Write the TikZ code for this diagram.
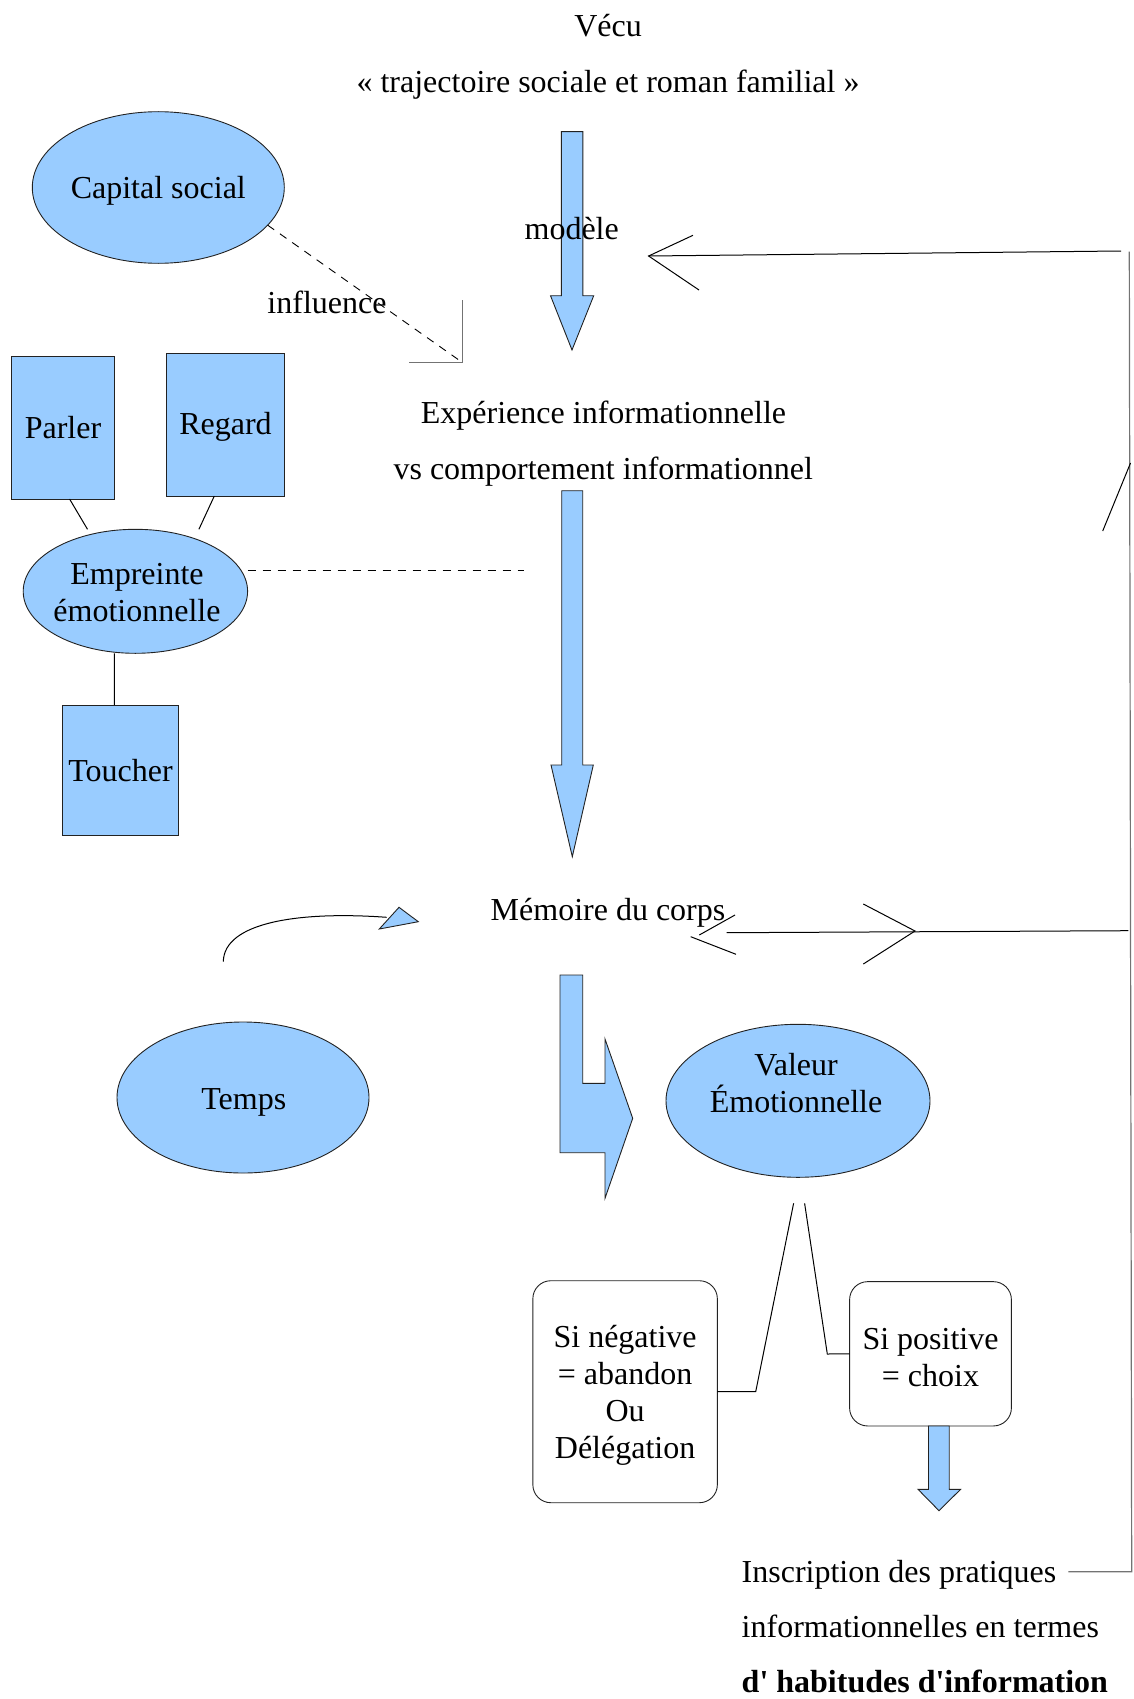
\documentclass[tikz,border=0pt]{standalone}
\usepackage{fontspec}
\setmainfont{Liberation Serif}[Ligatures=TeXOff]
\usetikzlibrary{shapes.geometric}
\definecolor{skyfill}{HTML}{99CCFF}
\definecolor{outline}{HTML}{222222}
\newcommand\diagfont{\fontsize{32pt}{37pt}\selectfont}

\begin{document}
\begin{tikzpicture}[x=1pt,y=-1pt,
  every node/.style={font=\diagfont, inner sep=0pt, outer sep=0pt},
  words/.style={anchor=base},
  bluebody/.style={draw=outline, line width=0.9pt, fill=skyfill, line join=miter},
  oval/.style={bluebody, ellipse},
  panel/.style={bluebody, rectangle, text height=22pt, text depth=0pt},
  choice/.style={draw=outline, line width=0.9pt, rectangle, rounded corners=18pt},
  link/.style={draw=black, line width=1pt},
  softlink/.style={draw=black!55, line width=1.2pt},
  hint/.style={draw=black, line width=0.9pt, dash pattern=on 8pt off 7pt}]

\useasboundingbox (0,0) rectangle (1133,1699);

% ---- headings -------------------------------------------------------
\node[words] (vecu) at (608,37) {Vécu};
\node[words] (trajectoire) at (608,92.5) {« trajectoire sociale et roman familial »};

% ---- first down arrow -----------------------------------------------
\draw[bluebody] (561.4,131.7) -- (582.8,131.7) -- (582.8,295.7) -- (593.7,295.7)
  -- (572,350) -- (550.5,295.7) -- (561.4,295.7) -- cycle;
\node[words] (modele) at (571.7,239) {modèle};

% ---- capital social and its influence ---------------------------------
\node[oval, minimum width=252pt, minimum height=151.6pt] (capital) at (158.3,187.5) {};
\node[words] (capitaltxt) at (158.3,199) {Capital social};
\coordinate (infltip) at (462.7,362.7);
\draw[hint] (capital.-19) -- (infltip);
\draw[softlink] (462.7,300) -- (infltip) -- (409.3,362.7);
\node[words] (influence) at (327,313) {influence};

% ---- central statement ----------------------------------------------
\node[words] (experience) at (603.5,423) {Expérience informationnelle};
\node[words] (comportement) at (603.3,479) {vs comportement informationnel};

% ---- senses around the emotional imprint ---------------------------
\node[panel, minimum width=102.5pt, minimum height=142.3pt] (parler) at (63,427.9) {Parler};
\node[panel, minimum width=118.2pt, minimum height=142.7pt] (regard) at (225.5,424.7) {};
\node (regardtxt) at (225.5,427) {Regard};
\node[oval, minimum width=224.4pt, minimum height=124pt] (empreinte) at (135.4,591.3) {};
\node[align=center] (empreintetxt) at (137,593) {Empreinte\\émotionnelle};
\node[panel, minimum width=115.3pt, minimum height=130pt] (toucher) at (120.5,770) {Toucher};

\draw[link] ([xshift=6.6pt]parler.south) -- ([xshift=-47.9pt]empreinte.north);
\draw[link] ([xshift=-11.2pt]regard.south) -- ([xshift=63.5pt]empreinte.north);
\draw[link] ([xshift=-21.1pt]empreinte.south) -- ([xshift=-6.2pt]toucher.north);
\coordinate (dashend) at (524.3,570.7);
\draw[hint] ([yshift=20.6pt]empreinte.east) -- (dashend);

% ---- long down arrow ------------------------------------------------
\draw[bluebody] (561.7,490.7) -- (582.7,490.7) -- (582.7,765) -- (593.3,765)
  -- (572.3,856.7) -- (551,765) -- (561.7,765) -- cycle;

% ---- body memory ----------------------------------------------------
\node[words] (memoire) at (608,920.5) {Mémoire du corps};

\node[oval, minimum width=252pt, minimum height=151pt] (temps) at (243,1097.5) {};
\node (tempstxt) at (243.8,1102) {Temps};
\coordinate (curvestart) at (223.3,961.7);
\coordinate (curveend) at (386.7,917.3);
\draw[link] (curvestart) .. controls (224,922) and (300,911) .. (curveend);
\draw[bluebody] (379.3,929) -- (399,907.3) -- (418.3,921.7) -- cycle;

% bent arrow towards the emotional value
\draw[bluebody] (560,975) -- (582.7,975) -- (582.7,1083.3) -- (605,1083.3) -- (605,1039)
  -- (632.7,1118.3) -- (605,1198.3) -- (605,1152.7) -- (560,1152.7) -- cycle;

\node[oval, minimum width=264pt, minimum height=153pt] (valeur) at (798,1100.8) {};
\node[align=center] (valeurtxt) at (796,1083) {Valeur\\Émotionnelle};

% ---- outcomes -------------------------------------------------------
\node[choice, minimum width=184.5pt, minimum height=222pt] (negative) at (625.1,1391.7) {};
\node[align=center] (negativetxt) at (625.1,1395.5) {Si négative\\= abandon\\Ou\\Délégation};
\node[choice, minimum width=161.8pt, minimum height=144.3pt] (positive) at (930.5,1353.8) {};
\node[align=center] (positivetxt) at (930.5,1358) {Si positive\\= choix};

\coordinate (negbend) at (755.7,1391.7);
\coordinate (posbend) at (827.3,1354);
\draw[link] ([shift={(-4.4pt,-26pt)}]valeur.south) -- (negbend) -- (negative.east);
\draw[link] ([shift={(6.6pt,-26pt)}]valeur.south) -- (posbend) -- (positive.west);

\draw[bluebody] (928.5,1426) -- (949.2,1426) -- (949.2,1489.3) -- (960.6,1489.3)
  -- (939,1510.7) -- (918,1489.3) -- (928.5,1489.3) -- cycle;

\node[anchor=base west] (inscription) at (741.7,1582.5) {Inscription des pratiques};
\node[anchor=base west] (pratiques) at (741.7,1637) {informationnelles en termes};
\node[anchor=base west] (habitudes) at (741.7,1692.5) {\bfseries d' habitudes d'information};

% ---- feedback loop on the right ------------------------------------
\coordinate (loopbottom) at (1131.7,1571.7);
\coordinate (looptop) at (1129.3,251.7);
\coordinate (loopmid) at (1128.3,930.7);
\draw[softlink] ([xshift=12pt]inscription.east |- loopbottom) -- (loopbottom) -- (looptop);
\draw[link] (1130.5,463) -- (1102.7,531);

\coordinate (modeletip) at (648.6,256);
\draw[link] (1121,251) -- (modeletip);
\draw[link] (693,235.3) -- (modeletip) -- (699,290);

\coordinate (memoiretip) at (726.7,932.7);
\draw[link] (loopmid) -- (memoiretip);
\draw[link] (735,915) -- (699.3,935);
\draw[link] (690.7,936.7) -- (736,954.3);
\draw[link] (863.3,904) -- (915,931) -- (863.3,964);

\end{tikzpicture}
\end{document}
